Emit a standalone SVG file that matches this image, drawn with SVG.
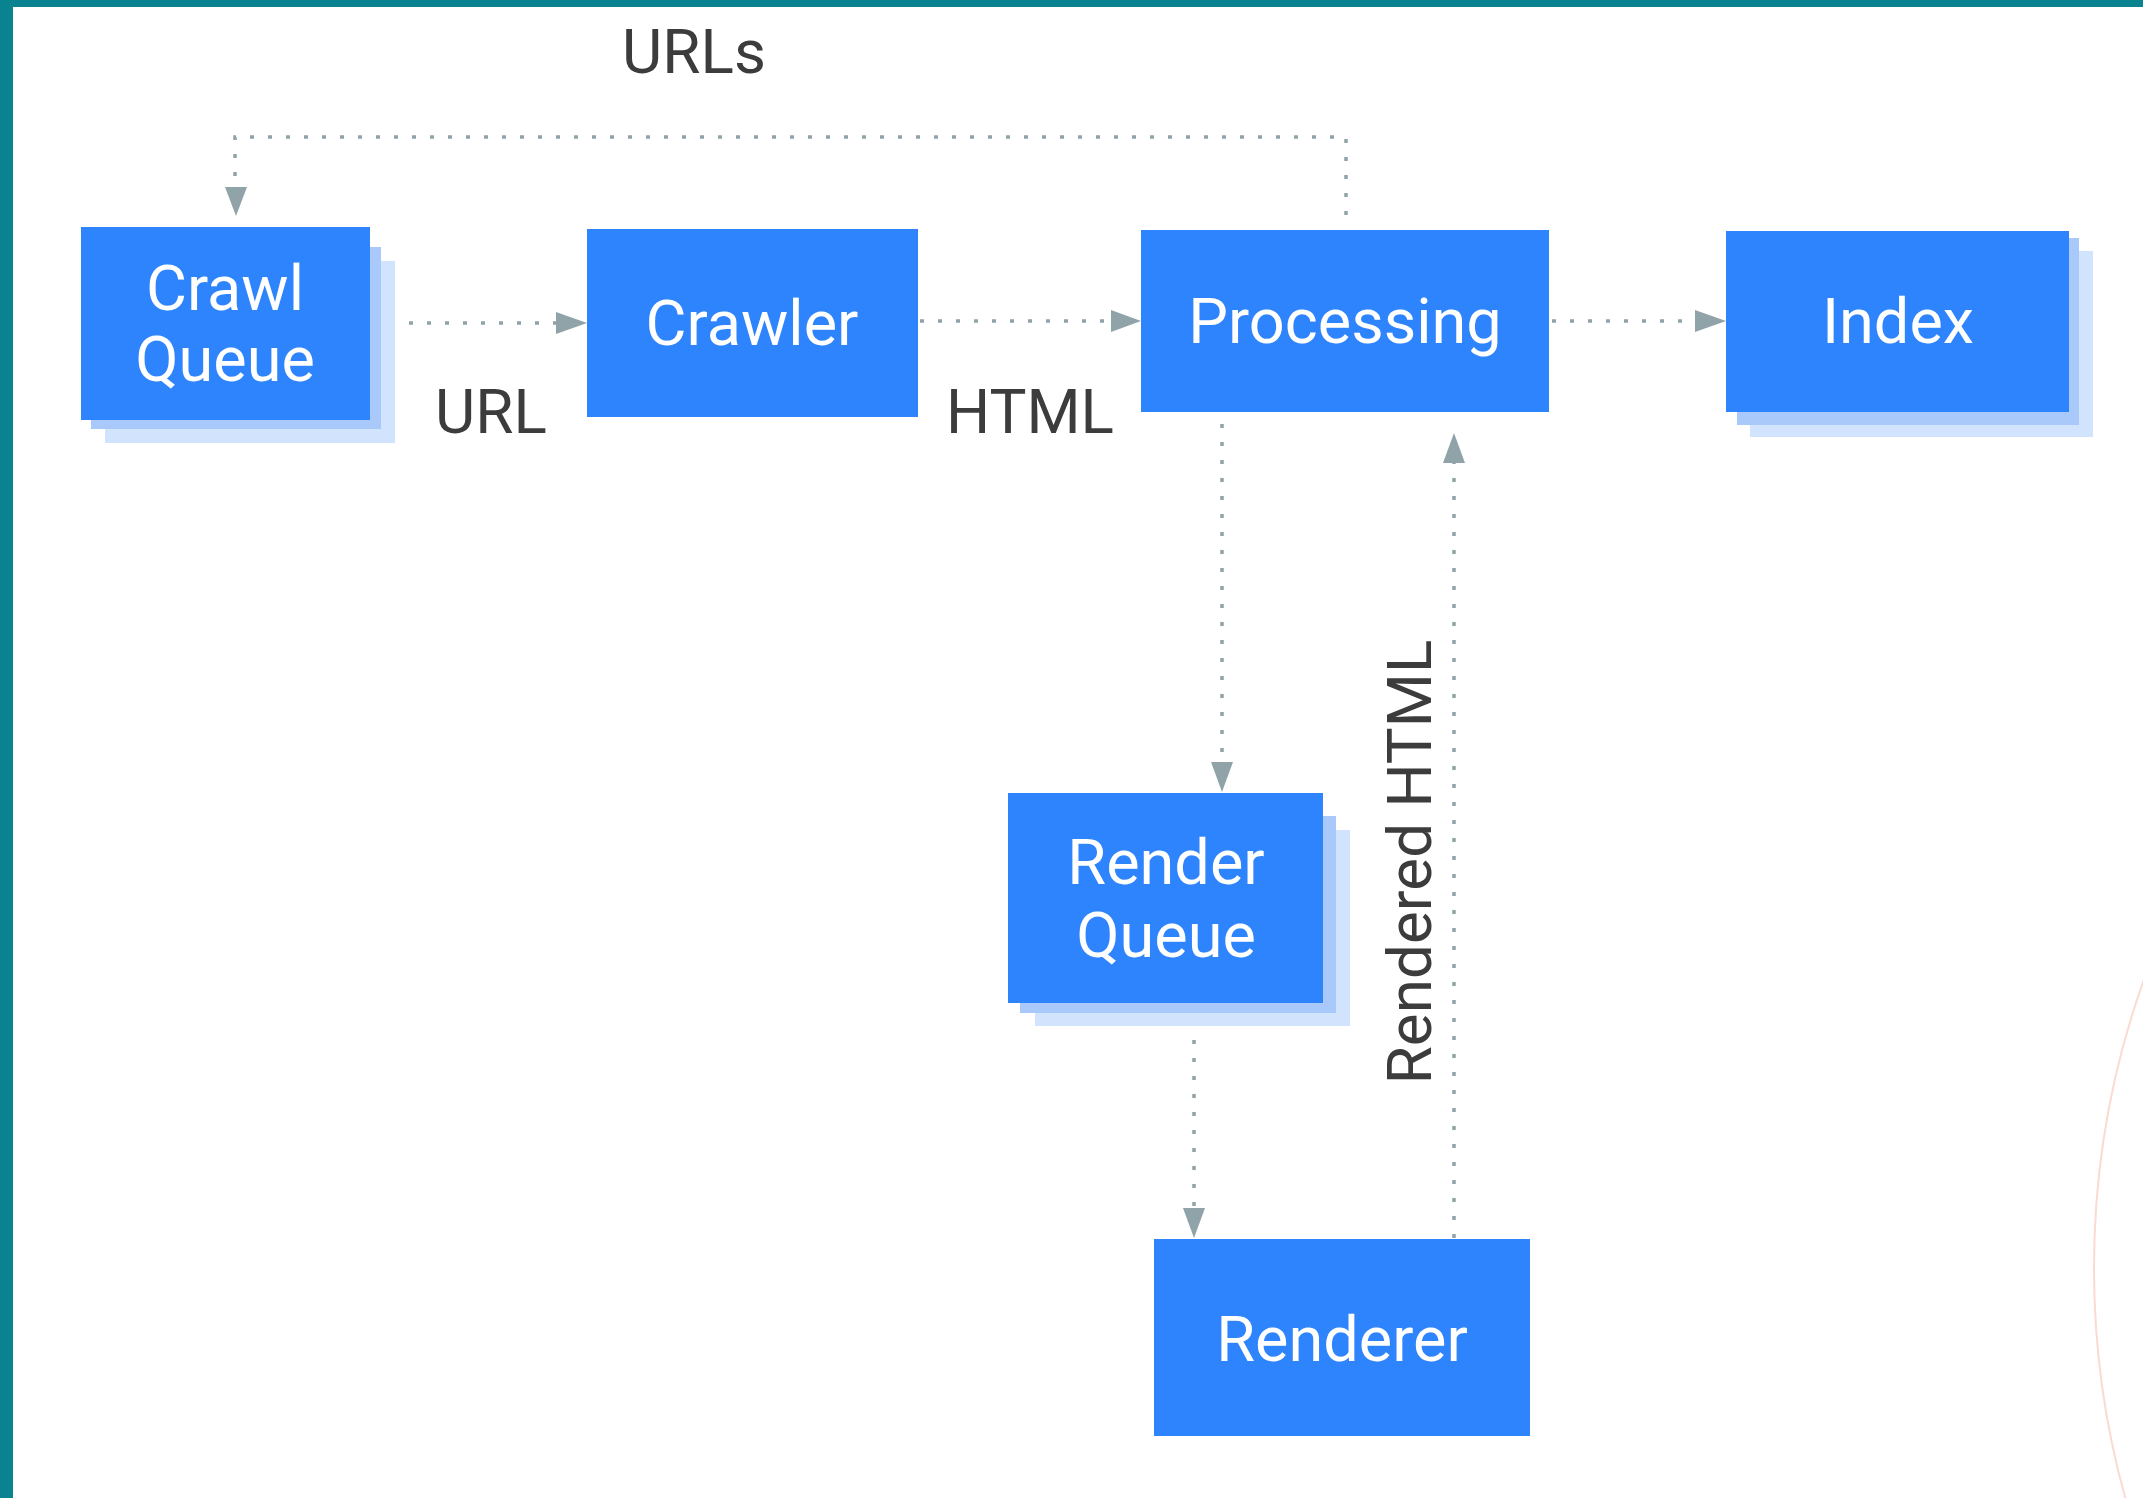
<svg xmlns="http://www.w3.org/2000/svg" width="2143" height="1498" viewBox="0 0 2143 1498">
  <defs>
    <style>
      .main { fill: #2e84fc; }
      .sh1 { fill: #a9c9fb; }
      .sh2 { fill: #d1e3fd; }
      .nt { font-family: Roboto, "Liberation Sans", sans-serif; font-size: 63px; fill: #ffffff; text-anchor: middle; }
      .lb { font-family: Roboto, "Liberation Sans", sans-serif; font-size: 62px; fill: #3c3c3c; text-anchor: middle; }
      .con { fill: none; stroke: #8fa3a9; stroke-width: 3.5; stroke-dasharray: 4 14; }
      .head { fill: #8fa3a9; }
    </style>
  </defs>
  <rect x="0" y="0" width="2143" height="1498" fill="#ffffff"/>
  <rect x="0" y="0" width="2143" height="7" fill="#08838f"/>
  <rect x="0" y="0" width="13" height="1498" fill="#08838f"/>
  <circle cx="2952" cy="1268" r="858" fill="none" stroke="#f9dccf" stroke-width="2"/>

  <g id="connectors">
    <!-- URLs loop: Processing top to Crawl Queue -->
    <path class="con" d="M1346,215 V137 H235 V187"/>
    <polygon class="head" points="225,187 247,187 236,216"/>
    <!-- URL: Crawl Queue to Crawler -->
    <path class="con" d="M409,323 H556"/>
    <polygon class="head" points="556,312 556,334 587,323"/>
    <!-- HTML: Crawler to Processing -->
    <path class="con" d="M920,321 H1111"/>
    <polygon class="head" points="1111,310 1111,332 1141,321"/>
    <!-- Processing to Index -->
    <path class="con" d="M1552,321 H1695"/>
    <polygon class="head" points="1695,310 1695,332 1726,321"/>
    <!-- Processing to Render Queue -->
    <path class="con" d="M1222,424 V762"/>
    <polygon class="head" points="1211,762 1233,762 1222,792"/>
    <!-- Render Queue to Renderer -->
    <path class="con" d="M1194,1040 V1208"/>
    <polygon class="head" points="1183,1208 1205,1208 1194,1238"/>
    <!-- Renderer to Processing -->
    <path class="con" d="M1454,1238 V463"/>
    <polygon class="head" points="1443,463 1465,463 1454,433"/>
  </g>

  <g id="labels">
    <text class="lb" x="694" y="73">URLs</text>
    <text class="lb" x="491" y="433">URL</text>
    <text class="lb" x="1030" y="433">HTML</text>
    <text class="lb" transform="translate(1431,862) rotate(-90)" x="0" y="0">Rendered HTML</text>
  </g>

  <g id="crawl-queue">
    <rect class="sh2" x="105" y="261" width="290" height="182"/>
    <rect class="sh1" x="91" y="247" width="290" height="182"/>
    <rect class="main" x="81" y="227" width="289" height="193"/>
    <text class="nt" x="225" y="310">Crawl</text>
    <text class="nt" x="225" y="381">Queue</text>
  </g>

  <g id="crawler">
    <rect class="main" x="587" y="229" width="331" height="188"/>
    <text class="nt" x="752" y="345">Crawler</text>
  </g>

  <g id="processing">
    <rect class="main" x="1141" y="230" width="408" height="182"/>
    <text class="nt" x="1345" y="343">Processing</text>
  </g>

  <g id="index">
    <rect class="sh2" x="1750" y="251" width="343" height="186"/>
    <rect class="sh1" x="1737" y="238" width="342" height="187"/>
    <rect class="main" x="1726" y="231" width="343" height="181"/>
    <text class="nt" x="1898" y="343">Index</text>
  </g>

  <g id="render-queue">
    <rect class="sh2" x="1035" y="830" width="315" height="196"/>
    <rect class="sh1" x="1020" y="816" width="316" height="197"/>
    <rect class="main" x="1008" y="793" width="315" height="210"/>
    <text class="nt" x="1166" y="884">Render</text>
    <text class="nt" x="1166" y="957">Queue</text>
  </g>

  <g id="renderer">
    <rect class="main" x="1154" y="1239" width="376" height="197"/>
    <text class="nt" x="1342" y="1361">Renderer</text>
  </g>
</svg>
